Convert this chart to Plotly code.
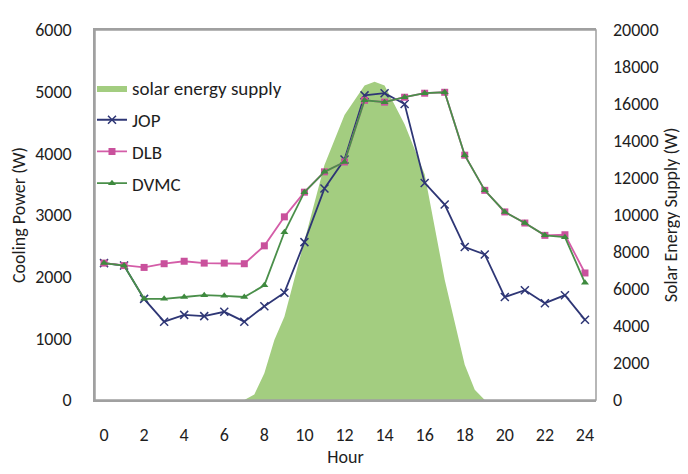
import plotly.graph_objects as go

hours = list(range(0, 25))
jop = [2220, 2180, 1640, 1270, 1380, 1360, 1430, 1270, 1520, 1740, 2560, 3430, 3900,
       4940, 4975, 4800, 3520, 3170, 2480, 2360, 1670, 1780, 1570, 1700, 1300]
dlb = [2220, 2180, 2150, 2210, 2250, 2220, 2220, 2210, 2500, 2970, 3370, 3700, 3860,
       4860, 4830, 4910, 4975, 4990, 3970, 3400, 3050, 2870, 2670, 2680, 2060]
dvmc = [2220, 2180, 1640, 1640, 1670, 1700, 1690, 1670, 1860, 2720, 3370, 3700, 3860,
        4860, 4830, 4910, 4975, 4990, 3970, 3400, 3050, 2870, 2670, 2640, 1900]

solar_hours = [7, 7.5, 8, 8.5, 9, 10, 11, 12, 13, 13.5, 14, 15, 16, 17, 18, 18.5, 19]
solar = [0, 300, 1450, 3240, 4500, 8650, 12700, 15400, 17000, 17200, 17000,
         14900, 12200, 6500, 1900, 550, 0]

x_ticks = list(range(0, 25, 2))

FONT = "Carlito, Lato, 'Liberation Sans', sans-serif"
TXT = "#1E1E1E"

fig = go.Figure()
# solar on primary axis (drawn below), cooling lines on overlaying axis y2
fig.add_trace(go.Scatter(
    x=solar_hours, y=solar, yaxis="y", name="solar energy supply", legendgroup="a",
    mode="lines", fill="tozeroy", line=dict(width=0, color="#A3CD80"),
    fillcolor="#A3CD80"))
fig.add_trace(go.Scatter(
    x=hours, y=jop, yaxis="y2", name="JOP", mode="lines+markers", legendgroup="b",
    line=dict(color="#2E3675", width=1.8),
    marker=dict(symbol="x-thin", size=8, line=dict(color="#2E3675", width=1.5))))
fig.add_trace(go.Scatter(
    x=hours, y=dlb, yaxis="y2", name="DLB", mode="lines+markers", legendgroup="c",
    line=dict(color="#D45DA8", width=1.8),
    marker=dict(symbol="square", size=7, color="#C9519C")))
fig.add_trace(go.Scatter(
    x=hours, y=dvmc, yaxis="y2", name="DVMC", mode="lines+markers", legendgroup="d",
    line=dict(color="#4A8F4A", width=1.8),
    marker=dict(symbol="triangle-up", size=7, color="#3E8A3E")))

fig.update_layout(
    width=680, height=466,
    margin=dict(l=87, r=92, t=22, b=74),
    paper_bgcolor="white", plot_bgcolor="white",
    font=dict(family=FONT, size=18, color=TXT),
    showlegend=True,
    legend=dict(x=-0.006, y=0.894, xanchor="left", yanchor="top",
                bgcolor="rgba(0,0,0,0)", font=dict(size=19, color=TXT),
                tracegroupgap=4, itemwidth=30, traceorder="grouped"),
    xaxis=dict(range=[-0.45, 24.55], tickvals=x_ticks, showgrid=False,
               zeroline=False, showline=True, linecolor="#A0A0A0", linewidth=1.5,
               mirror=True, ticks="", ticklabelstandoff=18, automargin=False,
               title=dict(text="Hour", standoff=4, font=dict(size=18))),
    yaxis=dict(range=[0, 20000], dtick=2000, side="right", tickformat="d",
               showgrid=False, zeroline=False, showline=False, ticks="",
               ticklabelstandoff=16, automargin=False,
               title=dict(text="Solar Energy Supply (W)", standoff=6, font=dict(size=18))),
    yaxis2=dict(range=[0, 6000], dtick=1000, overlaying="y", side="left",
                tickformat="d", showgrid=False, zeroline=False,
                showline=True, linecolor="#A0A0A0", linewidth=1.5,
                ticks="", ticklabelstandoff=18, automargin=False,
                title=dict(text="Cooling Power (W)", standoff=8, font=dict(size=18))),
    shapes=[dict(type="rect", xref="paper", yref="paper", x0=0, x1=1, y0=0, y1=1,
                 line=dict(color="#A0A0A0", width=1.5), layer="above")],
)

fig.write_html("out.html")
